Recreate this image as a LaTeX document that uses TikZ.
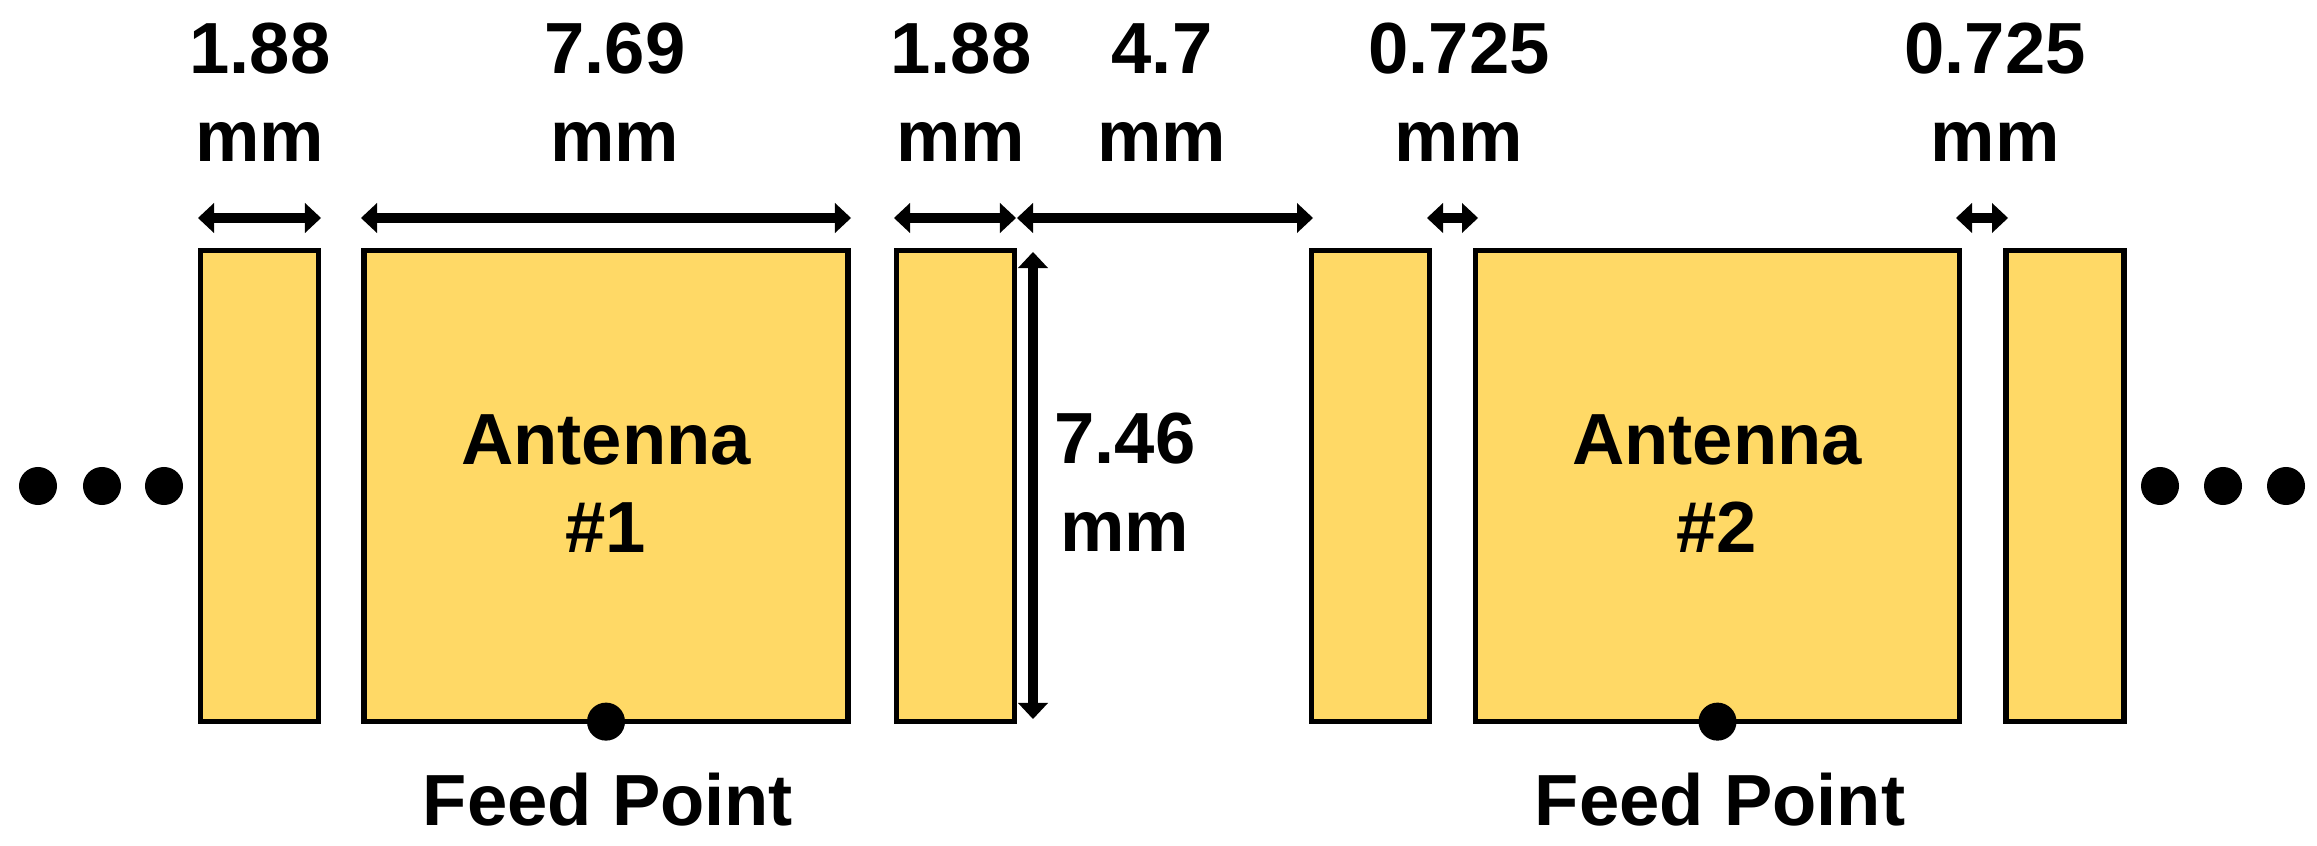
\documentclass[tikz,border=0pt]{standalone}
\usepackage{fontspec}
\setmainfont{Liberation Sans}
\usetikzlibrary{arrows.meta}
\definecolor{patch}{HTML}{FFD966}
\begin{document}
\begin{tikzpicture}[x=0.01cm,y=-0.01cm,
  patchbox/.style={draw=black, fill=patch, line width=0.055cm, outer sep=0pt, inner sep=0pt, minimum height=4.71cm},
  strip/.style={patchbox, minimum width=1.18cm},
  antenna/.style={patchbox, minimum width=4.84cm},
  lbl/.style={font=\bfseries\fontsize{20.6pt}{25.3pt}\selectfont, align=center, anchor=base, inner sep=0pt},
  dimarrow/.style={line width=0.095cm, {Triangle[length=0.16cm,width=0.30cm,line width=0pt]}-{Triangle[length=0.16cm,width=0.30cm,line width=0pt]}},
  dot/.style={circle, fill=black, inner sep=0pt, minimum size=0.38cm},
]
\useasboundingbox (0,0) rectangle (2317,846);

% patches
\node[strip]   (s1)   at (259.5,486)  {};
\node[antenna] (ant1) at (606,486)    {};
\node[strip]   (s2)   at (955.5,486)  {};
\node[strip]   (s3)   at (1370.5,486) {};
\node[antenna] (ant2) at (1717.5,486) {};
\node[strip]   (s4)   at (2065,486)   {};

% antenna labels (anchor = baseline of last line)
\node[lbl] (t1) at (606,553)  {Antenna\\\#1};
\node[lbl] (t2) at (1717,553) {Antenna\\\#2};

% feed points
\node[dot] (f1) at (ant1.south) {};
\node[dot] (f2) at (ant2.south) {};
\node[lbl] (fp1) at (608,826)  {Feed Point};
\node[lbl] (fp2) at (1720,826) {Feed Point};

% ellipsis dots
\node[dot] (l1) at (38,486)   {};
\node[dot] (l2) at (102,486)  {};
\node[dot] (l3) at (164,486)  {};
\node[dot] (r1) at (2160,486) {};
\node[dot] (r2) at (2223,486) {};
\node[dot] (r3) at (2286,486) {};

% dimension labels
\node[lbl] (d1) at (260,162)   {1.88\\mm};
\node[lbl] (d2) at (615,162)   {7.69\\mm};
\node[lbl] (d3) at (961,162)   {1.88\\mm};
\node[lbl] (d4) at (1162,162)  {4.7\\mm};
\node[lbl] (d5) at (1459,162)  {0.725\\mm};
\node[lbl] (d6) at (1995,162)  {0.725\\mm};
\node[lbl] (d7) at (1125,552)  {7.46\\mm};

% dimension arrow end points
\coordinate (a1l) at (198,218);  \coordinate (a1r) at (321,218);
\coordinate (a2l) at (361,218);  \coordinate (a2r) at (851,218);
\coordinate (a3l) at (894,218);  \coordinate (a3r) at (1016,218);
\coordinate (a4l) at (1017,218); \coordinate (a4r) at (1313,218);
\coordinate (a5l) at (1427,218); \coordinate (a5r) at (1478,218);
\coordinate (a6l) at (1956,218); \coordinate (a6r) at (2008,218);
\coordinate (vt) at (1033,252);  \coordinate (vb) at (1033,719);

\draw[dimarrow] (a1l) -- (a1r);
\draw[dimarrow] (a2l) -- (a2r);
\draw[dimarrow] (a3l) -- (a3r);
\draw[dimarrow] (a4l) -- (a4r);
\draw[dimarrow] (a5l) -- (a5r);
\draw[dimarrow] (a6l) -- (a6r);
\draw[dimarrow] (vt) -- (vb);
\end{tikzpicture}
\end{document}
